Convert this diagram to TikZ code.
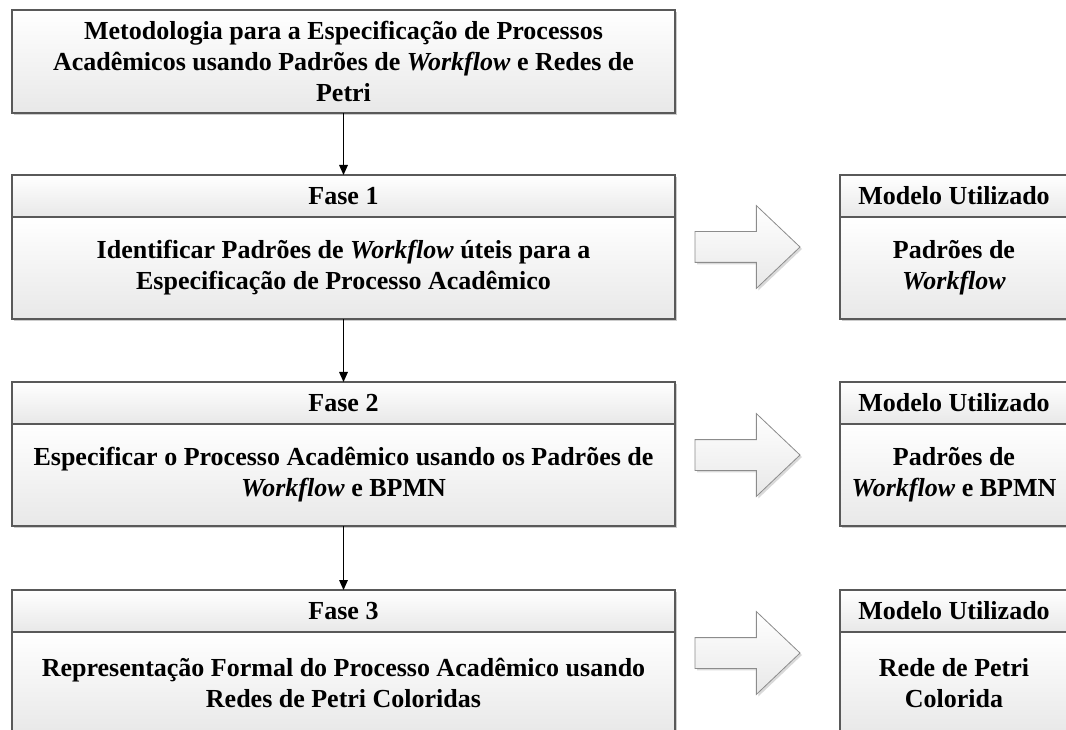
\documentclass[tikz,border=0pt]{standalone}
\usepackage{fontspec}
\setmainfont{Liberation Serif}
\usetikzlibrary{arrows,arrows.meta,shapes.arrows,shadows,positioning}

\begin{document}
\begin{tikzpicture}[x=0.75pt,y=-0.75pt]
\tikzset{CAIXA/.style={draw=black!65,line width=0.9pt,rectangle,align=center,inner sep=0pt,outer sep=0pt,top color=white,bottom color=black!9,drop shadow={shadow xshift=1.5pt,shadow yshift=-1.5pt,opacity=0.2,fill=black},font=\bfseries\fontsize{19.5}{23.2}\selectfont}}
\tikzset{FASE/.style={CAIXA,minimum width=497.25pt}}
\tikzset{MODELO/.style={CAIXA,minimum width=171pt}}
\tikzset{CABECALHO/.style={minimum height=31.5pt}}
\tikzset{CORPO/.style={minimum height=76.5pt}}

\tikzset{SETA/.style={draw=black!45,line width=0.6pt,single arrow,single arrow head extend=19.5pt,single arrow tip angle=87,minimum height=78.75pt,minimum width=61.5pt,inner xsep=0pt,inner ysep=11.25pt,outer sep=0pt,top color=white,bottom color=black!9,drop shadow={shadow xshift=1.5pt,shadow yshift=-1.5pt,opacity=0.15,fill=black},anchor=tail}}
\tikzset{LIGA/.style={draw,line width=0.8pt,-{Triangle[length=7.5pt,width=6.5pt]}}}

\useasboundingbox (0,0) rectangle (1066,730);
\clip (0,0) rectangle (1066,730);

\node[FASE,minimum height=77.25pt] (metodologia) at (343.5,61.5) {Metodologia para a Especificação de Processos\\Acadêmicos usando Padrões de \textit{Workflow} e Redes de\\Petri};

\node[FASE,CABECALHO] (fase 1) at (343.5,196) {Fase 1};
\node[FASE,CORPO,below=0pt of fase 1] (fase 1 corpo) {Identificar Padrões de \textit{Workflow} úteis para a\\Especificação de Processo Acadêmico};
\node[FASE,CABECALHO] (fase 2) at (343.5,403) {Fase 2};
\node[FASE,CORPO,below=0pt of fase 2] (fase 2 corpo) {Especificar o Processo Acadêmico usando os Padrões de\\\textit{Workflow} e BPMN};
\node[FASE,CABECALHO] (fase 3) at (343.5,611) {Fase 3};
\node[FASE,CORPO,below=0pt of fase 3] (fase 3 corpo) {Representação Formal do Processo Acadêmico usando\\Redes de Petri Coloridas};

\node[MODELO,CABECALHO] (modelo 1) at (954,196) {Modelo Utilizado};
\node[MODELO,CORPO,below=0pt of modelo 1] (modelo 1 corpo) {Padrões de\\\textit{Workflow}};
\node[MODELO,CABECALHO] (modelo 2) at (954,403) {Modelo Utilizado};
\node[MODELO,CORPO,below=0pt of modelo 2] (modelo 2 corpo) {Padrões de\\\textit{Workflow} e BPMN};
\node[MODELO,CABECALHO] (modelo 3) at (954,611) {Modelo Utilizado};
\node[MODELO,CORPO,below=0pt of modelo 3] (modelo 3 corpo) {Rede de Petri\\Colorida};

\node[SETA] (seta 1) at (695,247) {};
\node[SETA] (seta 2) at (695,455) {};
\node[SETA] (seta 3) at (695,653) {};

\path[LIGA] (metodologia) -- (fase 1);
\path[LIGA] (fase 1 corpo) -- (fase 2);
\path[LIGA] (fase 2 corpo) -- (fase 3);

\end{tikzpicture}
\end{document}
